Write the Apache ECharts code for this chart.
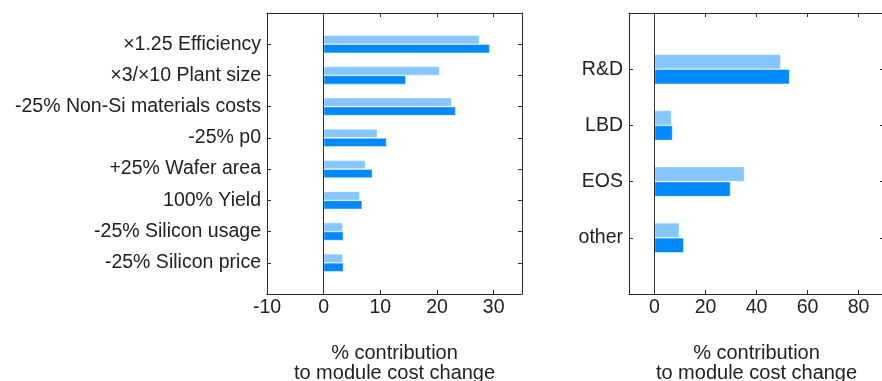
<!DOCTYPE html>
<html>
<head>
<meta charset="utf-8">
<script src="https://cdn.jsdelivr.net/npm/echarts@6/dist/echarts.min.js"></script>
<style>
html,body{margin:0;padding:0;background:#fff;}
#chart{width:882px;height:381px;}
</style>
</head>
<body>
<div id="chart"></div>
<script>
// Left panel: factors (top to bottom)
const leftCategories = ['×1.25 Efficiency', '×3/×10 Plant size', '-25% Non-Si materials costs', '-25% p0', '+25% Wafer area', '100% Yield', '-25% Silicon usage', '-25% Silicon price'];
const leftLight = [27.5, 20.5, 22.6, 9.5, 7.4, 6.4, 3.4, 3.4];
const leftDark = [29.3, 14.5, 23.3, 11.1, 8.6, 6.8, 3.5, 3.5];
const leftTicks = [-10, 0, 10, 20, 30];

// Right panel: mechanisms
const rightCategories = ['R&D', 'LBD', 'EOS', 'other'];
const rightLight = [49.5, 6.7, 35.3, 9.8];
const rightDark = [53.0, 7.1, 29.8, 11.5];
const rightTicks = [0, 20, 40, 60, 80];

const axisName = '% contribution\nto module cost change';

const FONT = "'Liberation Sans', Arial, Helvetica, sans-serif";
const LIGHT = '#88C6FF';
const DARK = '#0088FF';
const FRAME = '#2b2b2b';
const TEXT = '#222';
const FS = 19.5;

function padCats(c) { return [''].concat(c, ['']); }

function xAxes(gridIndex, min, max, ticks) {
  const base = {
    gridIndex: gridIndex, type: 'value', min: min, max: max,
    splitLine: { show: false },
    axisLine: { show: true, onZero: false, lineStyle: { color: FRAME, width: 1 } },
    axisTick: { show: true, inside: true, length: 4, customValues: ticks, lineStyle: { color: FRAME } },
  };
  return [
    Object.assign({}, base, {
      position: 'bottom',
      axisLabel: { show: true, customValues: ticks, margin: 4, fontSize: FS, color: TEXT, fontFamily: FONT },
      name: axisName, nameLocation: 'middle', nameGap: 49,
      nameTextStyle: { fontSize: 20, lineHeight: 20, color: TEXT, fontFamily: FONT }
    }),
    Object.assign({}, base, {
      position: 'top',
      axisLabel: { show: false }
    })
  ];
}

function yAxes(gridIndex, cats) {
  const n = cats.length + 2;
  const tickFn = function (i) { return i > 0 && i < n - 1; };
  const base = {
    gridIndex: gridIndex, type: 'category', data: padCats(cats), inverse: true, boundaryGap: false,
    splitLine: { show: false },
    axisLine: { show: true, onZero: false, lineStyle: { color: FRAME, width: 1 } },
    axisTick: { show: true, inside: true, length: 4, interval: tickFn, lineStyle: { color: FRAME } },
  };
  return [
    Object.assign({}, base, {
      position: 'left',
      axisLabel: { show: true, interval: 0, margin: 6, fontSize: FS, color: TEXT, fontFamily: FONT }
    }),
    Object.assign({}, base, {
      position: 'right',
      axisLabel: { show: false }
    })
  ];
}

function barSeries(xi, yi, data, color, width, withZero) {
  const s = {
    type: 'bar', xAxisIndex: xi, yAxisIndex: yi,
    data: [null].concat(data, [null]),
    barWidth: width, barGap: '0%',
    itemStyle: { color: color, borderColor: 'rgba(255,255,255,0.8)', borderWidth: 0.6 },
    silent: true, animation: false
  };
  if (withZero) {
    s.markLine = {
      silent: true, symbol: ['none', 'none'], label: { show: false },
      lineStyle: { color: '#333', width: 1, type: 'solid' },
      data: [{ xAxis: 0 }], animation: false
    };
  }
  return s;
}

const chart = echarts.init(document.getElementById('chart'), null, { renderer: 'canvas' });
chart.setOption({
  backgroundColor: '#fff',
  animation: false,
  grid: [
    { left: 267, top: 13, width: 255, height: 281, containLabel: false, outerBoundsMode: 'none' },
    { left: 629, top: 13, width: 255, height: 281, containLabel: false, outerBoundsMode: 'none' }
  ],
  xAxis: [].concat(xAxes(0, -10, 35, leftTicks), xAxes(1, -10, 90, rightTicks)),
  yAxis: [].concat(yAxes(0, leftCategories), yAxes(1, rightCategories)),
  series: [
    barSeries(0, 0, leftLight, LIGHT, 9, true),
    barSeries(0, 0, leftDark, DARK, 9, false),
    barSeries(2, 2, rightLight, LIGHT, 15, true),
    barSeries(2, 2, rightDark, DARK, 15, false)
  ]
});
</script>
</body>
</html>
